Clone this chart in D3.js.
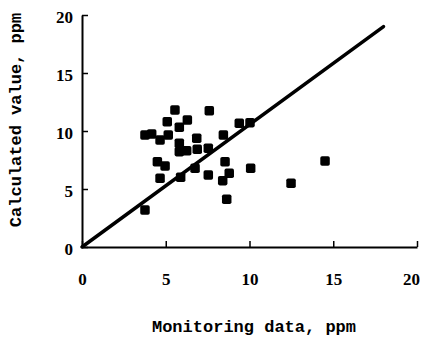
<!DOCTYPE html>
<html>
<head>
<meta charset="utf-8">
<script src="https://cdn.jsdelivr.net/npm/d3@7"></script>
<style>
  body { margin: 0; background: #fff; }
</style>
</head>
<body>
<div class="chart"></div>
<script>
// monitoring data (x) vs calculated value (y), ppm
const monitored = [5.55, 7.6, 5.09, 6.29, 5.81, 3.76, 4.16, 4.66, 5.15, 5.81, 5.81, 6.25, 6.85, 6.88, 7.54, 8.44,
  9.39, 10.03, 4.5, 4.96, 4.66, 5.89, 6.75, 7.54, 8.54, 8.79, 8.4, 8.64, 10.07, 12.48, 14.51, 3.76];
const calculated = [11.81, 11.75, 10.8, 10.95, 10.32, 9.66, 9.74, 9.22, 9.66, 8.94, 8.22, 8.3, 9.37, 8.42, 8.51, 9.66,
  10.66, 10.72, 7.35, 6.98, 5.92, 6.01, 6.78, 6.21, 7.35, 6.35, 5.72, 4.11, 6.78, 5.49, 7.41, 3.19];
const fitLine = [[0, 0], [18, 19]];
const xTicks = [0, 5, 10, 15, 20];
const yTicks = [0, 5, 10, 15, 20];

const width = 428, height = 337;
const x = d3.scaleLinear().domain([0, 20]).range([82, 417]);
const y = d3.scaleLinear().domain([0, 20]).range([247, 15]);

const svg = d3.select('.chart').append('svg')
  .attr('width', width)
  .attr('height', height);

const tickFont = '"Liberation Serif", serif';
const titleFont = '"Liberation Mono", monospace';

// x axis
const xAxis = svg.append('g')
  .attr('transform', `translate(0,${y(0)})`)
  .call(d3.axisBottom(x).tickValues(xTicks).tickSize(-6).tickPadding(26).tickSizeOuter(0));
xAxis.selectAll('text')
  .attr('dx', (d, i) => i === xTicks.length - 1 ? -6 : 0);

// y axis
const yAxis = svg.append('g')
  .attr('transform', `translate(${x(0)},0)`)
  .call(d3.axisLeft(y).tickValues(yTicks).tickSize(-6).tickPadding(9).tickSizeOuter(0));

svg.selectAll('.domain').attr('stroke', '#000').attr('stroke-width', 2);
svg.selectAll('.tick line').attr('stroke', '#000').attr('stroke-width', 1.5);
svg.selectAll('.tick text')
  .attr('fill', '#000')
  .style('font-family', tickFont)
  .style('font-weight', 'bold')
  .style('font-size', '17px');
yAxis.selectAll('.tick text').attr('dy', '0.45em');

// fit line
svg.append('path')
  .datum(fitLine)
  .attr('d', d3.line().x(d => x(d[0])).y(d => y(d[1])))
  .attr('stroke', '#000')
  .attr('stroke-width', 3.5)
  .attr('stroke-linecap', 'round')
  .attr('fill', 'none');

// points
const s = 9.5;
svg.append('g').selectAll('rect')
  .data(monitored.map((m, i) => [m, calculated[i]]))
  .join('rect')
  .attr('x', d => x(d[0]) - s / 2)
  .attr('y', d => y(d[1]) - s / 2)
  .attr('width', s)
  .attr('height', s)
  .attr('rx', 1.8)
  .attr('fill', '#000');

// titles
svg.append('text')
  .attr('x', 254)
  .attr('y', 332)
  .attr('text-anchor', 'middle')
  .style('font-family', titleFont)
  .style('font-weight', 'bold')
  .style('font-size', '17px')
  .text('Monitoring data, ppm');

svg.append('text')
  .attr('transform', 'translate(21,120) rotate(-90)')
  .attr('text-anchor', 'middle')
  .style('font-family', titleFont)
  .style('font-weight', 'bold')
  .style('font-size', '17px')
  .text('Calculated value, ppm');
</script>
</body>
</html>
